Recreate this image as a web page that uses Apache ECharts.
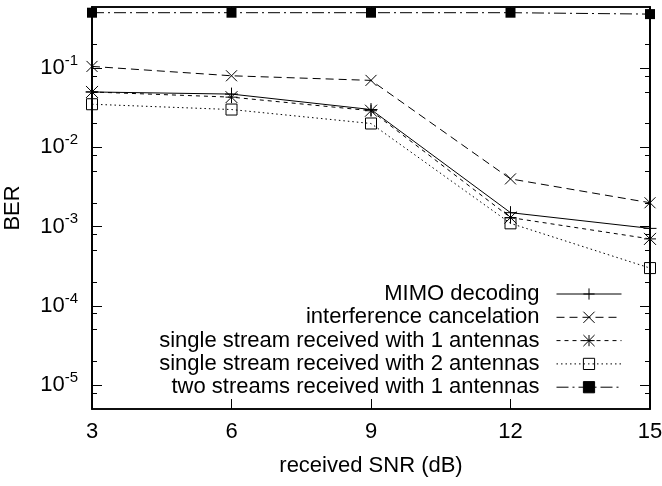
<!DOCTYPE html>
<html>
<head>
<meta charset="utf-8">
<script src="https://cdn.jsdelivr.net/npm/echarts@6/dist/echarts.min.js"></script>
<style>
  html, body { margin: 0; padding: 0; background: #fff; }
  #chart { width: 662px; height: 486px; }
</style>
</head>
<body>
<div id="chart"></div>
<script>
// data
var snr = [3, 6, 9, 12, 15];
var ber_mimo = [0.05, 0.047, 0.03, 0.0015, 0.00095];
var ber_ic = [0.105, 0.08, 0.07, 0.004, 0.002];
var ber_single1 = [0.05, 0.043, 0.029, 0.0013, 0.0007];
var ber_single2 = [0.035, 0.03, 0.02, 0.0011, 0.0003];
var ber_two1 = [0.5, 0.5, 0.5, 0.5, 0.48];

var seriesNames = [
    'MIMO decoding',
    'interference cancelation',
    'single stream received with 1 antennas',
    'single stream received with 2 antennas',
    'two streams received with 1 antennas'
];

// tick values
var xTicks = [3, 6, 9, 12, 15];
var yMajor = [1e-5, 1e-4, 1e-3, 1e-2, 1e-1];
var yMinor = [8e-6, 2e-5, 5e-5, 8e-5, 2e-4, 5e-4, 8e-4, 2e-3, 5e-3, 8e-3,
              0.02, 0.05, 0.08, 0.2, 0.5];
var yMin = 5e-6, yMax = 0.59;

var FONT = 'Liberation Sans';

function pairs(ys) {
    var out = [];
    for (var k = 0; k < snr.length; k++) out.push([snr[k], ys[k]]);
    return out;
}

var plusPath = 'path://M5 0L5 10M0 5L10 5';
var crossPath = 'path://M0 0L10 10M10 0L0 10';
var starPath = 'path://M5 0L5 10M0 5L10 5M0 0L10 10M10 0L0 10';

function yAxisDef(pos, vals, len, labels) {
    return {
        type: 'log',
        position: pos,
        min: yMin,
        max: yMax,
        logBase: 10,
        axisLine: { show: true, lineStyle: { color: '#000', width: 1.5 } },
        axisTick: { show: true, inside: true, length: len, customValues: vals,
                    lineStyle: { color: '#000', width: 1 } },
        axisLabel: labels ? {
            show: true,
            customValues: vals,
            margin: 14,
            fontFamily: FONT,
            color: '#000',
            formatter: function (v) {
                var e = Math.round(Math.log10(v));
                return '{b|10}{s|' + e + '}';
            },
            rich: {
                b: { fontSize: 22, lineHeight: 30, fontFamily: FONT, color: '#000' },
                s: { fontSize: 15, verticalAlign: 'top', fontFamily: FONT, color: '#000' }
            }
        } : { show: false },
        splitLine: { show: false },
        minorTick: { show: false }
    };
}

var chart = echarts.init(document.getElementById('chart'));

var option = {
    backgroundColor: '#fff',
    animation: false,
    grid: {
        left: 92, right: 12, top: 7, bottom: 77,
        outerBoundsMode: 'none',
        containLabel: false,
        show: true, borderColor: '#000', borderWidth: 1.5, backgroundColor: 'transparent'
    },
    legend: {
        orient: 'vertical',
        right: 35,
        top: 278,
        align: 'right',
        itemWidth: 65,
        itemHeight: 14,
        itemGap: 1.3,
        lineStyle: { width: 1 },
        itemStyle: { borderWidth: 1 },
        textStyle: { fontFamily: FONT, fontSize: 22, color: '#000', lineHeight: 20,
                     padding: [0, 12, 0, 0] },
        data: seriesNames
    },
    xAxis: [{
        type: 'value',
        min: 3, max: 15, interval: 3,
        name: 'received SNR (dB)',
        nameLocation: 'middle',
        nameGap: 46,
        nameTextStyle: { fontFamily: FONT, fontSize: 22, color: '#000' },
        axisLine: { lineStyle: { color: '#000', width: 1.5 } },
        axisTick: { inside: true, length: 10, customValues: xTicks, lineStyle: { color: '#000' } },
        axisLabel: { customValues: xTicks, margin: 12, fontFamily: FONT, fontSize: 22, color: '#000' },
        splitLine: { show: false }
    }, {
        type: 'value',
        position: 'top',
        min: 3, max: 15, interval: 3,
        axisLine: { lineStyle: { color: '#000', width: 1.5 } },
        axisTick: { inside: true, length: 10, customValues: xTicks, lineStyle: { color: '#000' } },
        axisLabel: { show: false },
        splitLine: { show: false }
    }],
    yAxis: [
        Object.assign(yAxisDef('left', yMajor, 10, true), {
            name: 'BER',
            nameLocation: 'middle',
            nameGap: 68,
            nameRotate: 90,
            nameTextStyle: { fontFamily: FONT, fontSize: 22, color: '#000' }
        }),
        yAxisDef('left', yMinor, 5, false),
        yAxisDef('right', yMajor, 10, false),
        yAxisDef('right', yMinor, 5, false)
    ],
    series: [{
        name: seriesNames[0],
        type: 'line',
        data: pairs(ber_mimo),
        symbol: plusPath,
        symbolSize: 13,
        lineStyle: { color: '#000', width: 1, type: 'solid' },
        itemStyle: { color: '#000', borderColor: '#000', borderWidth: 1 },
        clip: false
    }, {
        name: seriesNames[1],
        type: 'line',
        data: pairs(ber_ic),
        symbol: crossPath,
        symbolSize: 11,
        lineStyle: { color: '#000', width: 1, type: [8, 5] },
        itemStyle: { color: '#000', borderColor: '#000', borderWidth: 1 },
        clip: false
    }, {
        name: seriesNames[2],
        type: 'line',
        data: pairs(ber_single1),
        symbol: starPath,
        symbolSize: 12,
        lineStyle: { color: '#000', width: 1, type: [4, 4] },
        itemStyle: { color: '#000', borderColor: '#000', borderWidth: 1 },
        clip: false
    }, {
        name: seriesNames[3],
        type: 'line',
        data: pairs(ber_single2),
        symbol: 'rect',
        symbolSize: 11,
        lineStyle: { color: '#000', width: 1, type: [1.5, 3] },
        itemStyle: { color: 'rgba(0,0,0,0)', borderColor: '#000', borderWidth: 1 },
        clip: false
    }, {
        name: seriesNames[4],
        type: 'line',
        data: pairs(ber_two1),
        symbol: 'rect',
        symbolSize: 10,
        lineStyle: { color: '#000', width: 1, type: [12, 4, 2, 4] },
        itemStyle: { color: '#000', borderColor: '#000', borderWidth: 0 },
        clip: false
    }]
};

chart.setOption(option);
</script>
</body>
</html>
